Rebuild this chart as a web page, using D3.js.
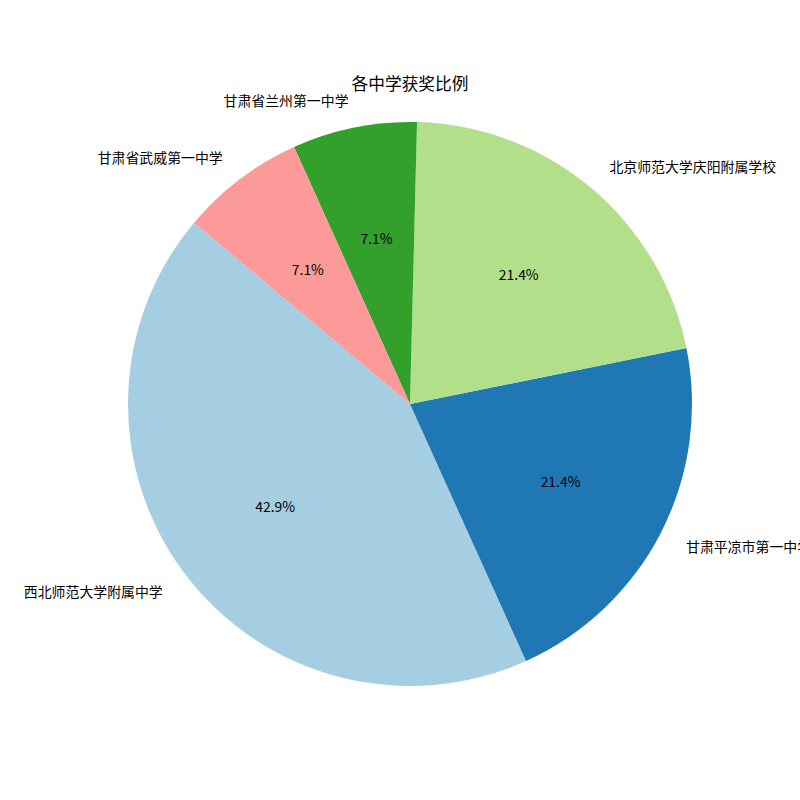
<!DOCTYPE html>
<html>
<head>
<meta charset="utf-8">
<script src="https://cdn.jsdelivr.net/npm/d3@7"></script>
<style>
  body { margin: 0; background: #fff; }
  svg text { font-family: "Noto Sans CJK SC", "DejaVu Sans", sans-serif; fill: #000; }
</style>
</head>
<body>
<svg id="chart" width="800" height="800"></svg>
<script>
// data
const schools = ["西北师范大学附属中学", "甘肃平凉市第一中学", "北京师范大学庆阳附属学校", "甘肃省兰州第一中学", "甘肃省武威第一中学"];
const awards = [6, 3, 3, 1, 1];
const sliceColors = ["#a6cee3", "#1f78b4", "#b2df8a", "#33a02c", "#fb9a99"];
const chartTitle = "各中学获奖比例";

const cx = 410, cy = 404, r = 282;
const startAngle = 140; // degrees, counterclockwise like matplotlib

const svg = d3.select("#chart");
const total = d3.sum(awards);

// matplotlib goes counterclockwise from 140deg; d3 angles are clockwise from 12 o'clock
const toD3 = deg => (90 - deg) * Math.PI / 180;

const pie = d3.pie().sort(null).value(d => d)
    .startAngle(toD3(startAngle))
    .endAngle(toD3(startAngle) - 2 * Math.PI);

const arcs = pie(awards);
const arc = d3.arc().innerRadius(0).outerRadius(r);

const g = svg.append("g").attr("transform", `translate(${cx},${cy})`);

g.selectAll("path")
    .data(arcs)
    .enter().append("path")
    .attr("d", arc)
    .attr("fill", (d, i) => sliceColors[i]);

function midPoint(d, k) {
    const a = (d.startAngle + d.endAngle) / 2;
    return [Math.sin(a) * r * k, -Math.cos(a) * r * k];
}

// school labels at 1.1r
g.selectAll("text.label")
    .data(arcs)
    .enter().append("text")
    .attr("class", "label")
    .attr("x", d => midPoint(d, 1.1)[0])
    .attr("y", d => midPoint(d, 1.1)[1])
    .attr("text-anchor", d => midPoint(d, 1.1)[0] < 0 ? "end" : "start")
    .attr("dominant-baseline", "central")
    .style("font-size", "13.9px")
    .text((d, i) => schools[i]);

// percentages at 0.6r
g.selectAll("text.pct")
    .data(arcs)
    .enter().append("text")
    .attr("class", "pct")
    .attr("x", d => midPoint(d, 0.6)[0])
    .attr("y", d => midPoint(d, 0.6)[1])
    .attr("text-anchor", "middle")
    .attr("dominant-baseline", "central")
    .style("font-size", "13.9px")
    .text(d => (d.value / total * 100).toFixed(1) + "%");

svg.append("text")
    .attr("x", cx)
    .attr("y", 83)
    .attr("text-anchor", "middle")
    .attr("dominant-baseline", "central")
    .style("font-size", "16.7px")
    .text(chartTitle);
</script>
</body>
</html>
